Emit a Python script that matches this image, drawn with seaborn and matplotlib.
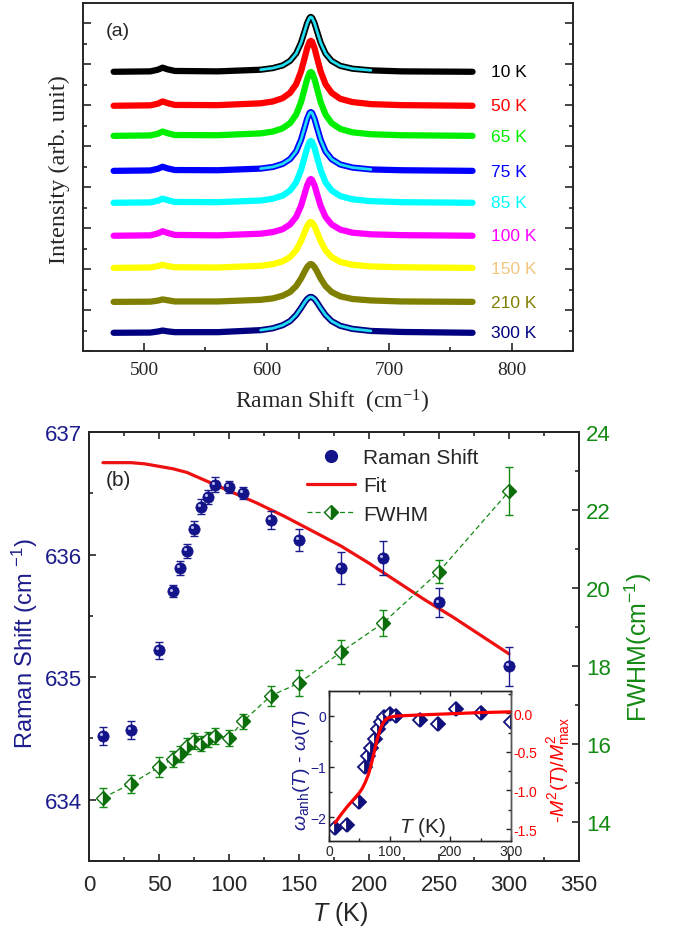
import numpy as np
import matplotlib
matplotlib.use("Agg")
import matplotlib.pyplot as plt
import seaborn as sns
from matplotlib.lines import Line2D
from matplotlib.ticker import MultipleLocator
from matplotlib.transforms import offset_copy

sns.set_style("ticks")
plt.rcParams["font.family"] = ["Liberation Sans", "DejaVu Sans"]
plt.rcParams["mathtext.fontset"] = "custom"
plt.rcParams["mathtext.rm"] = "Liberation Sans"
plt.rcParams["mathtext.it"] = "Liberation Sans:italic"
plt.rcParams["mathtext.bf"] = "Liberation Sans:bold"
plt.rcParams["axes.linewidth"] = 1.4
plt.rcParams["xtick.direction"] = "in"
plt.rcParams["ytick.direction"] = "in"

# ---------------- panel (a) data: stacked Raman spectra ----------------
wn = [475, 505, 511, 515, 519, 525, 560, 595, 605, 613, 619, 624, 628, 631, 633,
      635, 636, 637, 639, 641, 644, 648, 653, 660, 670, 685, 710, 768]
spec_labels = ["10 K", "50 K", "65 K", "75 K", "85 K", "100 K", "150 K", "210 K", "300 K"]
offsets = [13.63, 11.97, 10.50, 8.79, 7.23, 5.62, 4.05, 2.39, 0.88]
line_colors = ["#000000", "#ff0000", "#00ee00", "#0000ff", "#00ffff",
               "#ff00ff", "#ffff00", "#808000", "#000080"]
label_colors = ["#000000", "#ff0000", "#00ee00", "#0000ff", "#00ffff",
                "#ff00ff", "#f2c77e", "#808000", "#000080"]
has_fit = [True, False, False, True, False, False, False, False, True]

spec_10 = [.01, .03, .11, .21, .13, .05, .03, .11, .19, .32, .54, .90, 1.43, 2.00, 2.39,
           2.65, 2.69, 2.65, 2.39, 2.00, 1.43, .90, .54, .30, .16, .08, .03, .01]
spec_50 = [.01, .03, .11, .22, .14, .05, .04, .13, .22, .38, .64, 1.06, 1.69, 2.36, 2.83,
           3.14, 3.18, 3.14, 2.83, 2.36, 1.69, 1.06, .64, .35, .19, .09, .04, .01]
spec_65 = [.01, .03, .11, .22, .14, .05, .04, .13, .22, .38, .63, 1.05, 1.66, 2.33, 2.78,
           3.09, 3.13, 3.09, 2.78, 2.33, 1.66, 1.05, .63, .35, .18, .09, .04, .01]
spec_75 = [.01, .03, .11, .21, .13, .05, .04, .12, .20, .35, .58, .96, 1.53, 2.14, 2.56,
           2.84, 2.88, 2.84, 2.56, 2.14, 1.53, .96, .58, .32, .17, .08, .04, .01]
spec_85 = [.01, .03, .11, .21, .14, .05, .04, .12, .21, .36, .61, 1.01, 1.61, 2.25, 2.69,
           2.99, 3.03, 2.99, 2.69, 2.25, 1.61, 1.01, .61, .34, .18, .09, .04, .01]
spec_100 = [.01, .03, .12, .23, .15, .05, .03, .11, .19, .33, .56, .93, 1.47, 2.07, 2.47,
            2.74, 2.78, 2.74, 2.47, 2.07, 1.47, .93, .56, .31, .16, .08, .04, .01]
spec_150 = [.01, .03, .09, .16, .10, .04, .03, .11, .19, .33, .54, .87, 1.32, 1.76, 2.05,
            2.23, 2.25, 2.23, 2.05, 1.76, 1.32, .87, .54, .30, .16, .08, .04, .01]
spec_210 = [.01, .02, .07, .13, .09, .03, .03, .11, .18, .31, .49, .78, 1.15, 1.50, 1.71,
            1.84, 1.86, 1.84, 1.71, 1.50, 1.15, .78, .49, .28, .15, .08, .03, .01]
spec_300 = [.01, .02, .07, .12, .08, .04, .04, .14, .23, .38, .58, .88, 1.22, 1.50, 1.66,
            1.75, 1.76, 1.75, 1.66, 1.50, 1.22, .88, .58, .35, .20, .10, .05, .01]
spectra = [spec_10, spec_50, spec_65, spec_75, spec_85, spec_100, spec_150, spec_210, spec_300]

# ---------------- panel (b) data ----------------
T = [10, 30, 50, 60, 65, 70, 75, 80, 85, 90, 100, 110, 130, 150, 180, 210, 250, 300]
shift = [634.52, 634.57, 635.22, 635.70, 635.89, 636.03, 636.21, 636.39, 636.47, 636.57,
         636.55, 636.50, 636.28, 636.12, 635.89, 635.97, 635.61, 635.09]
shift_err = [0.075, 0.075, 0.07, 0.05, 0.06, 0.06, 0.06, 0.06, 0.06, 0.06,
             0.05, 0.05, 0.075, 0.09, 0.13, 0.14, 0.12, 0.16]
fwhm = [14.62, 14.98, 15.41, 15.62, 15.75, 15.95, 16.07, 16.01, 16.12, 16.21,
        16.16, 16.58, 17.24, 17.56, 18.36, 19.10, 20.42, 22.48]
fwhm_err = [0.245, 0.23, 0.26, 0.2, 0.2, 0.2, 0.2, 0.2, 0.2, 0.2,
            0.2, 0.19, 0.26, 0.33, 0.3, 0.34, 0.3, 0.61]
T_fit = [10, 20, 30, 40, 50, 60, 70, 80, 90, 100, 120, 140, 160, 180, 200, 220, 240, 260, 280, 300]
shift_fit = [636.75, 636.75, 636.75, 636.74, 636.72, 636.70, 636.67, 636.62, 636.57, 636.52,
             636.42, 636.31, 636.19, 636.07, 635.93, 635.78, 635.63, 635.49, 635.34, 635.19]

# inset
T_in = [10, 30, 50, 60, 65, 70, 75, 80, 85, 90, 100, 110, 150, 180, 210, 250, 300]
d_omega = [-2.21, -2.15, -1.69, -1.00, -0.80, -0.64, -0.45, -0.25, -0.12, -0.02,
           0.03, 0.00, -0.08, -0.16, 0.13, 0.05, -0.13]
T_mfit = [10, 20, 30, 40, 50, 55, 60, 65, 70, 75, 80, 85, 90, 95, 100, 110, 150, 200, 250, 300]
m_fit = [-1.42, -1.31, -1.21, -1.12, -1.03, -0.97, -0.89, -0.79, -0.65, -0.48, -0.32, -0.19,
         -0.11, -0.07, -0.05, -0.035, -0.02, -0.005, 0.01, 0.02]

navy = "#1c1c8c"
ball = "#14148a"
green = "#138a13"

fig = plt.figure(figsize=(6.73, 9.29), dpi=100)

# ======== panel (a) ========
ax_a = fig.add_axes([0.1233, 0.6211, 0.7281, 0.3746])
for i in range(len(spectra)):
    y = np.array(spectra[i]) + offsets[i]
    sns.lineplot(x=wn, y=y, ax=ax_a, color=line_colors[i], linewidth=4.5,
                 solid_capstyle="round", solid_joinstyle="round")
    if has_fit[i]:
        xs = [w for w in wn if 590 <= w <= 686]
        ys = [v for w, v in zip(wn, y) if 590 <= w <= 686]
        sns.lineplot(x=xs, y=ys, ax=ax_a, color="#22dcef", linewidth=2.0)
    ax_a.text(783, offsets[i], spec_labels[i], color=label_colors[i], fontsize=12.5,
              ha="left", va="center")

ax_a.set_xlim(450, 850)
ax_a.set_ylim(0, 17)
ax_a.set_xticks([500, 600, 700, 800], labels=["500", "600", "700", "800"],
                fontfamily="Liberation Serif", fontsize=14)
ax_a.xaxis.set_minor_locator(MultipleLocator(50))
ax_a.yaxis.set_major_locator(MultipleLocator(2))
ax_a.yaxis.set_minor_locator(MultipleLocator(1))
ax_a.tick_params(axis="y", which="both", left=True, right=True, labelleft=False)
ax_a.tick_params(axis="x", which="both", bottom=True, top=False, pad=7)
ax_a.tick_params(which="major", length=5.5, width=1.2)
ax_a.tick_params(which="minor", length=3, width=1.2)
ax_a.set_xlabel(r"Raman Shift  (cm$\mathregular{^{-1}}$)", fontfamily="Liberation Serif", fontsize=17)
ax_a.set_ylabel("Intensity (arb. unit)", fontfamily="Liberation Serif", fontsize=17.5)
ax_a.xaxis.set_label_coords(0.508, -0.103)
ax_a.yaxis.set_label_coords(-0.027, 0.523)
ax_a.text(0.047, 0.92, "(a)", transform=ax_a.transAxes, fontsize=14, va="center")

# ======== panel (b) ========
ax = fig.add_axes([0.1322, 0.0721, 0.7281, 0.4618])
ax2 = ax.twinx()

sns.lineplot(x=T_fit, y=shift_fit, ax=ax, color="#ee1111", linewidth=2.3)
ax.errorbar(T, shift, yerr=shift_err, fmt="none", ecolor=navy, elinewidth=1.0,
            capsize=3, capthick=1.0)
sns.scatterplot(x=T, y=shift, ax=ax, color=ball, s=66, edgecolor=ball, linewidth=0.5, zorder=4)
hl = offset_copy(ax.transData, fig=fig, x=-1.3, y=1.3, units="points")
ax.scatter(T, shift, s=5, color="#b8b8f0", transform=hl, zorder=5, linewidths=0)

ax2.errorbar(T, fwhm, yerr=fwhm_err, fmt="none", ecolor=green, elinewidth=1.0,
             capsize=3, capthick=1.0)
sns.lineplot(x=T, y=fwhm, ax=ax2, color=green, linewidth=0.9, linestyle=(0, (4, 2.5)))
ax2.plot(T, fwhm, linestyle="none", marker="D", markersize=6.8, color="#0b6e0b",
         fillstyle="right", markerfacecoloralt="white", markeredgecolor="#0b6e0b",
         markeredgewidth=1.0, zorder=4)

ax.set_xlim(0, 350)
ax.set_ylim(633.5, 637.0)
ax2.set_ylim(13, 24)
ax.xaxis.set_major_locator(MultipleLocator(50))
ax.xaxis.set_minor_locator(MultipleLocator(25))
ax.yaxis.set_major_locator(MultipleLocator(1))
ax.yaxis.set_minor_locator(MultipleLocator(0.5))
ax2.yaxis.set_major_locator(MultipleLocator(2))
ax2.yaxis.set_minor_locator(MultipleLocator(1))
ax.tick_params(axis="x", which="both", bottom=True, top=True, labelsize=16, pad=9)
ax.tick_params(axis="y", which="both", left=True, right=False, labelsize=16,
               labelcolor=navy, pad=5)
ax2.tick_params(axis="y", which="both", right=True, labelsize=16, labelcolor=green, pad=5)
for a in (ax, ax2):
    a.tick_params(which="major", length=5, width=1.2)
    a.tick_params(which="minor", length=3, width=1.2)

ax.set_xlabel(r"$\mathit{T}$ (K)", fontsize=18)
ax.set_ylabel(r"Raman Shift (cm $\mathregular{^{-1}}$)", fontsize=17, color=navy)
ax2.set_ylabel(r"FWHM(cm$\mathregular{^{-1}}$)", fontsize=18, color=green)
ax.xaxis.set_label_coords(0.512, -0.089)
ax.yaxis.set_label_coords(-0.1, 0.51)
ax2.yaxis.set_label_coords(1.088, 0.5)
ax.text(0.035, 0.89, "(b)", transform=ax.transAxes, fontsize=15, va="center")

handles = [
    Line2D([], [], linestyle="none", marker="o", markersize=8.5, color=ball),
    Line2D([], [], color="#ee1111", linewidth=2.3),
    Line2D([], [], color=green, linewidth=0.9, linestyle=(0, (4, 2.5)), marker="D",
           markersize=6.8, fillstyle="right", markerfacecoloralt="white",
           markeredgecolor="#0b6e0b", markerfacecolor="#0b6e0b"),
]
ax2.legend(handles, ["Raman Shift", "Fit", "FWHM"], loc="upper left",
           bbox_to_anchor=(0.445, 0.963), frameon=False, fontsize=15,
           handlelength=2.3, handletextpad=0.4, labelspacing=0.45,
           borderpad=0, borderaxespad=0)

# ======== inset ========
axi = fig.add_axes([0.4889, 0.0936, 0.2704, 0.1615])
axi.set_zorder(5)
axi.set_facecolor("white")
axi2 = axi.twinx()
axi2.set_zorder(6)

axi.plot(T_in, d_omega, linestyle="none", marker="D", markersize=6.8, color="#10107a",
         fillstyle="right", markerfacecoloralt="white", markeredgecolor="#10107a",
         markeredgewidth=1.3)
sns.lineplot(x=T_mfit, y=m_fit, ax=axi2, color="#ff0000", linewidth=2.3)

axi.set_xlim(0, 300)
axi.set_ylim(-2.47, 0.49)
axi2.set_ylim(-1.656, 0.29)
axi.xaxis.set_major_locator(MultipleLocator(100))
axi.xaxis.set_minor_locator(MultipleLocator(50))
axi.yaxis.set_major_locator(MultipleLocator(1))
axi.yaxis.set_minor_locator(MultipleLocator(0.5))
axi2.yaxis.set_minor_locator(MultipleLocator(0.25))
axi2.set_yticks([0.0, -0.5, -1.0, -1.5], labels=["0.0", "-0.5", "-1.0", "-1.5"])
axi.tick_params(axis="x", which="both", bottom=True, top=True, labelsize=10, pad=2)
axi.tick_params(axis="y", which="both", left=True, labelsize=10, labelcolor=navy, pad=2)
axi2.tick_params(axis="y", which="both", right=True, labelsize=10, labelcolor="#ff0000", pad=2)
for a in (axi, axi2):
    a.tick_params(which="major", length=3.5, width=1.0)
    a.tick_params(which="minor", length=2, width=1.0)
    for s in a.spines.values():
        s.set_linewidth(1.0)
axi2.spines["right"].set_color("#555555")
axi.set_xlabel("")
axi.set_ylabel(r"$\omega_{\rm anh}(T)$ - $\omega(T)$", fontsize=14, color=navy)
axi2.set_ylabel(r"-$M^2(T)/M^2_{\rm max}$", fontsize=14, color="#ff0000")
axi.yaxis.set_label_coords(-0.093, 0.48)
axi2.yaxis.set_label_coords(1.187, 0.48)
axi.text(0.516, 0.1, r"$\mathit{T}$ (K)", transform=axi.transAxes, fontsize=15,
         ha="center", va="center")

fig.savefig("out.png", dpi=100)
